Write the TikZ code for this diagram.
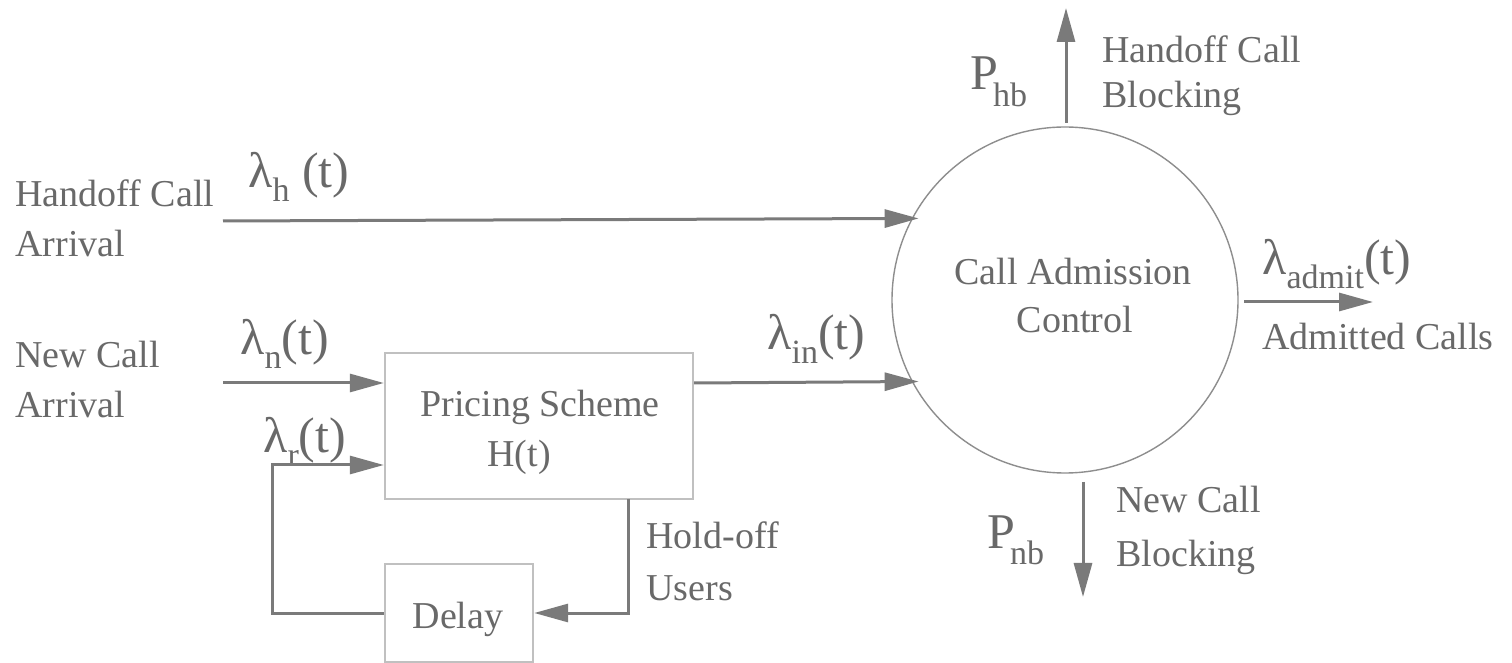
\documentclass[tikz,border=0pt]{standalone}
\usepackage{fontspec}
\setmainfont{Liberation Serif}
\usetikzlibrary{arrows.meta}
\definecolor{txt}{RGB}{105,105,105}
\definecolor{lnc}{RGB}{122,122,122}
\definecolor{bxc}{RGB}{192,192,192}
\newcommand{\lsub}[1]{\raisebox{-7pt}{\fontsize{17pt}{17pt}\selectfont #1}}
\newcommand{\psub}[1]{\kern-2.5pt\raisebox{-8.5pt}{\fontsize{17pt}{17pt}\selectfont #1}}
\tikzset{
  lab/.style={inner sep=0pt, anchor=base west, text=txt, font=\fontsize{19pt}{22pt}\selectfont},
  clab/.style={lab, anchor=base},
  glab/.style={inner sep=0pt, anchor=base west, text=txt, font=\fontsize{25pt}{28pt}\selectfont},
  plab/.style={inner sep=0pt, anchor=base west, text=txt, font=\fontsize{25pt}{28pt}\selectfont},
  boxst/.style={draw=bxc, line width=1.2pt, inner sep=0pt},
  arr/.style={draw=lnc, line width=1.5pt, -{Triangle[length=17pt,width=9pt]}},
}
\begin{document}
\begin{tikzpicture}[x=0.5pt,y=-0.5pt]
\useasboundingbox (0,0) rectangle (1512,663);
\fill[white] (0,0) rectangle (1512,663);

% boxes and circle
\node[boxst, minimum width=154pt, minimum height=73pt] (ps) at (539,426) {};
\node[boxst, minimum width=74pt, minimum height=49pt] (dl) at (459,613) {};
\node[circle, draw=lnc!85, line width=0.7pt, minimum size=173pt, inner sep=0pt] (cac) at (1065,300) {};

% texts
\node[lab] (hca1) at (15,207) {Handoff Call};
\node[lab] (hca2) at (15,257) {Arrival};
\node[lab] (nca1) at (15,368) {New Call};
\node[lab] (nca2) at (15,418) {Arrival};
\node[glab] (lh) at (248,188) {λ\lsub{h} (t)};
\node[glab] (lnn) at (240,355) {λ\lsub{n}(t)};
\node[glab] (lr) at (263,453) {λ\lsub{r}(t)};
\node[glab] (lin) at (767,350) {λ\lsub{in}(t)};
\node[glab] (lad) at (1262,275) {λ\lsub{admit}(t)};
\node[plab] (phb) at (970,90) {P\psub{hb}};
\node[plab] (pnb) at (987,548) {P\psub{nb}};
\node[clab] (ps1) at (540,417) {Pricing Scheme};
\node[clab] (ps2) at (519,467) {H(t)};
\node[clab] (dlt) at (458,628) {Delay};
\node[lab] (ho1) at (646,548) {Hold-off};
\node[lab] (ho2) at (646,600) {Users};
\node[clab] (ca1) at (1073,285) {Call Admission};
\node[clab] (ca2) at (1075,333) {Control};
\node[lab] (hb1) at (1102,63) {Handoff Call};
\node[lab] (hb2) at (1102,108) {Blocking};
\node[lab] (nb1) at (1116,513) {New Call};
\node[lab] (nb2) at (1116,567) {Blocking};
\node[lab] (adm) at (1262,350) {Admitted Calls};

% coordinates
\coordinate (hs) at (223,221);
\coordinate (ns) at (223,383);
\coordinate (rl) at (272,465);
\coordinate (ho) at (628,499);
\coordinate (hbs) at (1066,123);
\coordinate (hbe) at (1066,8);
\coordinate (nbs) at (1083,482);
\coordinate (nbe) at (1083,597);
\coordinate (ads) at (1244,302);
\coordinate (ade) at (1373,302);

% connectors
\draw[arr, shorten >=-3.5pt] (hs) -- (cac.152.8);
\draw[arr] (ns) -- (ns -| ps.west);
\draw[arr, shorten >=-3.5pt] (ps.east |- ns) -- (cac.208.7);
\draw[arr] (dl.west) -| (rl) -- (rl -| ps.west);
\draw[arr] (ho) |- (dl.east);
\draw[arr] (hbs) -- (hbe);
\draw[arr] (nbs) -- (nbe);
\draw[arr] (ads) -- (ade);
\end{tikzpicture}
\end{document}
